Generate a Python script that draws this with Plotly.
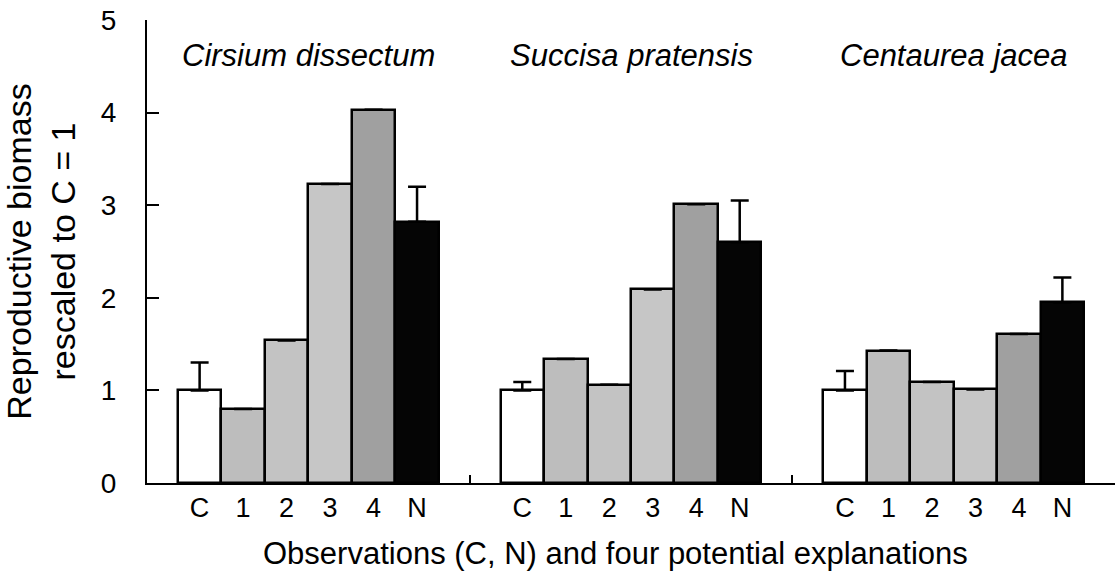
import plotly.graph_objects as go

species = ["Cirsium dissectum", "Succisa pratensis", "Centaurea jacea"]
bar_labels = ["C", "1", "2", "3", "4", "N"]
bar_colors = ["#ffffff", "#bdbdbd", "#c3c3c3", "#c6c6c6", "#a0a0a0", "#050505"]

values = {
    "Cirsium dissectum": [1.00, 0.80, 1.54, 3.23, 4.03, 2.82],
    "Succisa pratensis": [1.00, 1.34, 1.06, 2.09, 3.01, 2.60],
    "Centaurea jacea":   [1.00, 1.43, 1.09, 1.01, 1.61, 1.95],
}
# upward error (only for C and N)
errors = {
    "Cirsium dissectum": [0.30, None, None, None, None, 0.38],
    "Succisa pratensis": [0.09, None, None, None, None, 0.45],
    "Centaurea jacea":   [0.21, None, None, None, None, 0.27],
}
x_title = "Observations (C, N) and four potential explanations"
y_title = "Reproductive biomass<br>rescaled to C = 1"

G = 7.42  # group span in bar widths
xs, ys, cols, errs, tickv, tickt = [], [], [], [], [], []
for g, sp in enumerate(species):
    for i, lab in enumerate(bar_labels):
        x = g * G + G / 2 + (i - 2.5)
        xs.append(x)
        ys.append(values[sp][i])
        cols.append(bar_colors[i])
        errs.append(errors[sp][i])
        tickv.append(x)
        tickt.append(lab)

font = "Liberation Sans, Arial, sans-serif"

fig = go.Figure()
fig.add_trace(go.Bar(
    x=xs, y=ys, width=1.0,
    marker=dict(color=cols, line=dict(color="black", width=2.5)),
    error_y=dict(type="data", symmetric=False, array=errs,
                 arrayminus=[0] * len(errs), color="black",
                 thickness=2.5, width=9, visible=True),
    showlegend=False,
))
# invisible trace for separator ticks on overlay axis
fig.add_trace(go.Scatter(x=[0], y=[0], xaxis="x2", mode="markers",
                         marker=dict(opacity=0), showlegend=False,
                         hoverinfo="skip"))

for g, sp in enumerate(species):
    fig.add_annotation(x=g * G + G / 2, y=4.62, xref="x", yref="y",
                       text=sp, showarrow=False,
                       font=dict(family=font, size=31, color="black",
                                 style="italic"))

fig.add_annotation(x=0.4835, y=-0.153, xref="paper", yref="paper",
                   xanchor="center", yanchor="middle", text=x_title,
                   showarrow=False,
                   font=dict(family=font, size=31, color="black"))

fig.update_layout(
    width=1118, height=574,
    margin=dict(l=147, r=3, t=20, b=91),
    paper_bgcolor="white", plot_bgcolor="white",
    font=dict(family=font, color="black"),
    bargap=0,
    xaxis=dict(range=[0, 3 * G], tickvals=tickv, ticktext=tickt,
               ticks="", showline=True, linecolor="black", linewidth=2,
               showgrid=False, zeroline=False,
               tickfont=dict(size=27, family=font)),
    xaxis2=dict(range=[0, 3 * G], overlaying="x", side="bottom",
                tickvals=[G, 2 * G, 3 * G], ticks="inside", ticklen=8,
                tickwidth=2, tickcolor="black", showticklabels=False,
                showgrid=False, zeroline=False, showline=False),
    yaxis=dict(range=[0, 5], tickvals=[0, 1, 2, 3, 4, 5],
               ticks="inside", ticklen=12, tickwidth=2, tickcolor="black",
               showline=True, linecolor="black", linewidth=2,
               showgrid=False, zeroline=False, ticklabelstandoff=23,
               tickfont=dict(size=28, family=font),
               title=dict(text=y_title,
                          font=dict(size=34, family=font), standoff=16)),
)

fig.write_html("out.html")
